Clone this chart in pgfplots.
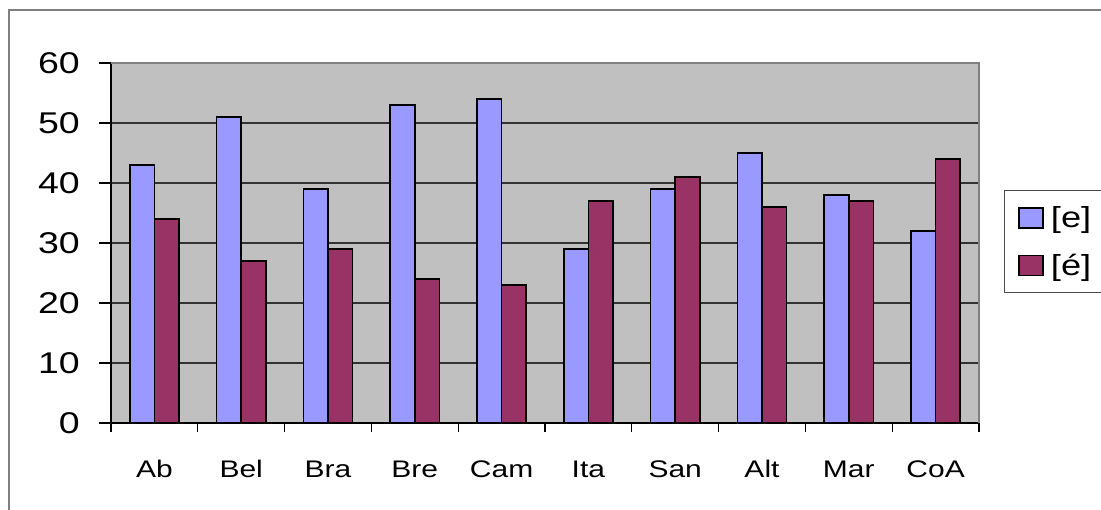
\documentclass[border=0pt]{standalone}
\usepackage{fontspec}
\setmainfont[FakeStretch=1.25]{Liberation Sans}
\usepackage{pgfplots}
\pgfplotsset{compat=1.18}
\definecolor{barblue}{HTML}{9999FF}
\definecolor{barred}{HTML}{993366}
\definecolor{plotbg}{HTML}{C0C0C0}
\definecolor{framegray}{HTML}{808080}
\begin{document}
\begin{tikzpicture}[x=1pt,y=1pt]
\useasboundingbox (0,0) rectangle (1101,510);
\draw[framegray, line width=1.5pt] (9,-5) -- (9,500) -- (1110,500);
\begin{axis}[
  at={(111pt,87pt)}, anchor=south west,
  scale only axis, width=868pt, height=360pt,
  ybar=0pt, bar width=24.6pt,
  xmin=-0.5, xmax=9.5, ymin=0, ymax=60,
  ytick={0,10,...,60},
  xtick={0,...,9},
  xticklabels={Ab,Bel,Bra,Bre,Cam,Ita,San,Alt,Mar,CoA},
  minor xtick={-0.5,0.5,...,9.5},
  major x tick style={draw=none},
  tick align=outside,
  major tick length=12pt, minor tick length=9pt,
  every tick/.style={black, line width=1.3pt},
  axis x line*=bottom, axis y line*=left,
  axis line style={black, line width=1.5pt, -},
  ymajorgrids, grid style={black!80, line width=1.4pt},
  axis background/.style={fill=plotbg},
  /pgf/number format/assume math mode=true,
  yticklabel style={font=\fontsize{30}{30}\selectfont, inner sep=0pt, xshift=-19pt},
  xticklabel style={font=\fontsize{24}{24}\selectfont, anchor=base, inner sep=0pt, yshift=-43pt},
  xticklabel shift=0pt,
  enlargelimits=false,
  legend style={at={(1.0288,0.6472)}, anchor=north west, draw=black!70, line width=1pt,
    fill=white, inner xsep=14pt, inner ysep=14pt, row sep=21pt,
    font=\fontsize{29}{29}\selectfont, cells={anchor=west},
    /tikz/every odd column/.append style={column sep=5pt}},
  legend image code/.code={\draw[#1, line width=1.5pt] (0pt,-10pt) rectangle (24pt,10pt);},
  after end axis/.code={\draw[framegray, line width=1.5pt] (rel axis cs:0,1) -- (rel axis cs:1,1) -- (rel axis cs:1,0);},
]
\addplot[fill=barblue, draw=black, line width=1.5pt] coordinates {(0,43) (1,51) (2,39) (3,53) (4,54) (5,29) (6,39) (7,45) (8,38) (9,32)};
\addlegendentry{{[e]}\hspace*{40pt}}
\addplot[fill=barred, draw=black, line width=1.5pt] coordinates {(0,34) (1,27) (2,29) (3,24) (4,23) (5,37) (6,41) (7,36) (8,37) (9,44)};
\addlegendentry{{[é]}\hspace*{40pt}}
\end{axis}
\end{tikzpicture}
\end{document}
